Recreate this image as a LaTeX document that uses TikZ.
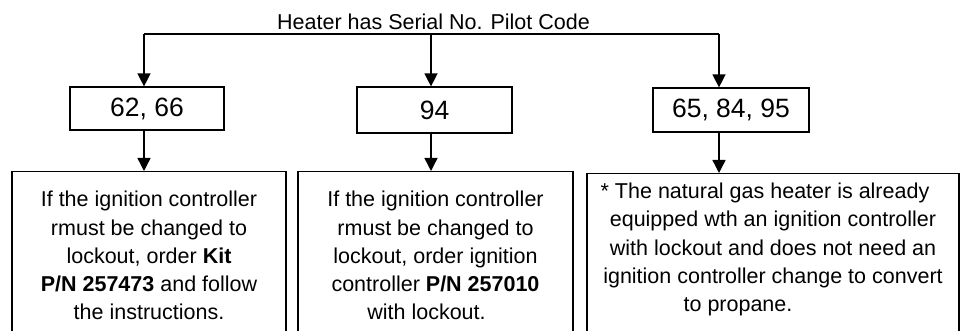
\documentclass[tikz,border=0pt]{standalone}
\usepackage{fontspec}
\setmainfont{Liberation Sans}
\usetikzlibrary{arrows.meta}
\tikzset{
  line/.style={line width=1.4pt},
  arr/.style={line width=1.4pt,-{Triangle[length=13pt,width=13pt]}},
  numbox/.style={draw,line width=1.2pt,inner sep=0pt,font=\fontsize{26.5}{30}\selectfont},
  bigbox/.style={draw,line width=1.2pt,inner sep=0pt},
  body/.style={align=center,inner sep=0pt,anchor=base,font=\fontsize{21.5}{28.3}\selectfont},
  title/.style={inner sep=0pt,anchor=base,font=\fontsize{21.5}{26}\selectfont}
}
\begin{document}
\begin{tikzpicture}[x=1pt,y=-1pt]
\useasboundingbox (0,0) rectangle (961,331);
\clip (0,0) rectangle (961,331);
\fill[white] (0,0) rectangle (961,331);
\node[title] (t) at (433.5,29.3) {Heater has Serial No. Pilot Code};
\coordinate (h1) at (144,34);
\coordinate (h2) at (431,34);
\coordinate (h3) at (719,34);
\draw[line] (h1) -- (h3);
\node[numbox,minimum width=154pt,minimum height=43pt] (b1) at (147,108.5) {62, 66};
\node[numbox,minimum width=155pt,minimum height=46pt] (b2) at (434.5,110) {94};
\node[numbox,minimum width=156pt,minimum height=44pt] (b3) at (731,110) {65, 84, 95};
\draw[arr] (h1) -- (b1.north -| h1);
\draw[arr] (h2) -- (b2.north -| h2);
\draw[arr] (h3) -- (b3.north -| h3);
\node[bigbox,minimum width=274pt,minimum height=200pt,anchor=north] (cA) at (149,171) {};
\node[bigbox,minimum width=275pt,minimum height=200pt,anchor=north] (cB) at (435.5,171) {};
\node[bigbox,minimum width=372pt,minimum height=200pt,anchor=north] (cC) at (773,173) {};
\draw[arr] (b1.south -| h1) -- (cA.north -| h1);
\draw[arr] (b2.south -| h2) -- (cB.north -| h2);
\draw[arr] (b3.south -| h3) -- (cC.north -| h3);
\node[body] (tA) at (149,319.9) {If the ignition controller\\rmust be changed to\hspace*{12pt}\\lockout, order \textbf{Kit}\hspace*{12pt}\\\textbf{P/N 257473} and follow\hspace*{18pt}\\the instructions.};
\node[body] (tB) at (435.5,319.9) {If the ignition controller\\rmust be changed to\hspace*{12pt}\\lockout, order ignition\hspace*{12pt}\\controller \textbf{P/N 257010}\hspace*{12pt}\\with lockout.\hspace*{18pt}};
\node[body] (tC) at (773,311.7) {* The natural gas heater is already\hspace*{16pt}\\equipped wth an ignition controller\hspace*{6pt}\\with lockout and does not need an\hspace*{8pt}\\ignition controller change to convert\\to propane.\hspace*{70pt}};
\end{tikzpicture}
\end{document}
